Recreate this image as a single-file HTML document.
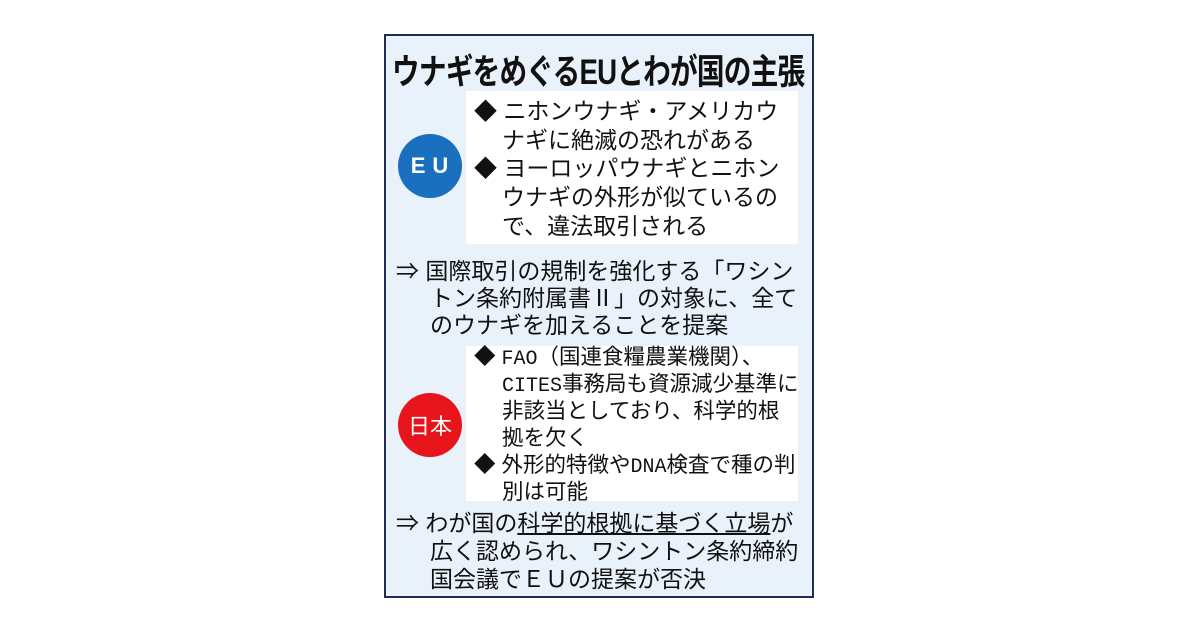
<!DOCTYPE html>
<html><head><meta charset="utf-8"><style>
body{margin:0;width:1200px;height:630px;background:#fff;position:relative;overflow:hidden;font-family:"Liberation Sans","Noto Sans CJK JP",sans-serif;color:#111}
.box{position:absolute;left:384px;top:34px;width:426px;height:560px;border:2px solid #1d2d5a;background:#e9f1fa}
.t{position:absolute;white-space:nowrap;line-height:1}
.panel{position:absolute;background:#fff}
.c{position:absolute;width:64px;height:64px;border-radius:50%;color:#fff;display:flex;align-items:center;justify-content:center;font-size:22px}
.n{font-family:"Liberation Sans Narrow","Liberation Mono","Noto Sans CJK JP",sans-serif;font-size:20px}
</style></head><body>
<div class="box"></div>
<div class="t" style="left:392px;top:55px;font-size:35px;font-weight:bold;transform:scaleX(0.79);transform-origin:left top;letter-spacing:-1px">ウナギをめぐるEUとわが国の主張</div>
<div class="panel" style="left:466px;top:91px;width:332px;height:153px"></div>
<div class="panel" style="left:466px;top:346px;width:332px;height:155px"></div>
<div class="c" style="left:398px;top:134px;background:#1a6fbf;letter-spacing:7px;padding-left:6px;box-sizing:border-box;font-weight:bold">EU</div>
<div class="c" style="left:398px;top:393px;background:#e8141c">日本</div>
<div style="font-size:23px">
<div class="t" style="left:474px;top:100px">◆ ニホンウナギ・アメリカウ</div>
<div class="t" style="left:502px;top:129px">ナギに絶滅の恐れがある</div>
<div class="t" style="left:474px;top:157px">◆ ヨーロッパウナギとニホン</div>
<div class="t" style="left:502px;top:186px">ウナギの外形が似ているの</div>
<div class="t" style="left:502px;top:215px">で、違法取引される</div>
<div class="t" style="left:396px;top:260px">⇒ 国際取引の規制を強化する「ワシン</div>
<div class="t" style="left:430px;top:287px">トン条約附属書Ⅱ」の対象に、全て</div>
<div class="t" style="left:430px;top:314px">のウナギを加えることを提案</div>
</div>
<div style="font-size:21.5px">
<div class="t" style="left:474px;top:347px">◆ <span class="n">FAO</span>（国連食糧農業機関）、</div>
<div class="t" style="left:502px;top:374px"><span class="n">CITES</span>事務局も資源減少基準に</div>
<div class="t" style="left:502px;top:401px">非該当としており、科学的根</div>
<div class="t" style="left:502px;top:428px">拠を欠く</div>
<div class="t" style="left:474px;top:455px">◆ 外形的特徴や<span class="n">DNA</span>検査で種の判</div>
<div class="t" style="left:502px;top:482px">別は可能</div>
</div>
<div style="font-size:23px">
<div class="t" style="left:396px;top:512px">⇒ わが国の<span style="text-decoration:underline">科学的根拠に基づく立場</span>が</div>
<div class="t" style="left:430px;top:540px">広く認められ、ワシントン条約締約</div>
<div class="t" style="left:430px;top:568px">国会議でＥＵの提案が否決</div>
</div>
</body></html>
